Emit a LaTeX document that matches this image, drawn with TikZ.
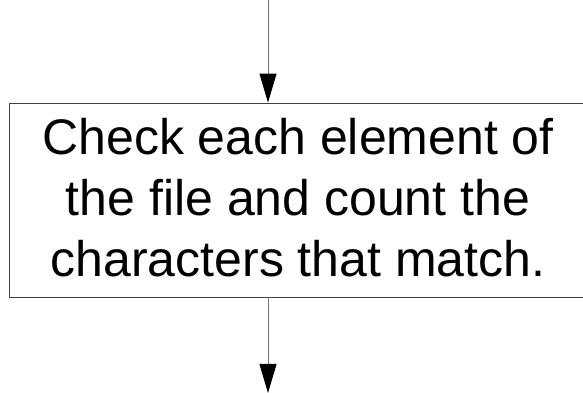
\documentclass[tikz,border=0pt]{standalone}
\usepackage{fontspec}
\setmainfont{Liberation Sans}
\usetikzlibrary{arrows.meta}

\begin{document}
\begin{tikzpicture}[
  x=1pt, y=1pt,
  stepbox/.style={draw=black!75, line width=0.8pt, minimum width=578pt,
    minimum height=194pt, align=center, inner sep=0pt, text depth=6pt,
    font=\fontsize{50}{61}\selectfont},
  flow/.style={draw=black!55, line width=1pt,
    -{Triangle[length=29pt,width=17pt,color=black]}},
]

\useasboundingbox (0,0) rectangle (583,393);

\node [stepbox] (check) at (298,193) {Check each element of\\the file and count the\\characters that match.};

\coordinate (in) at (268,393);
\coordinate (out) at (268,0);

\draw [flow] (in) -- (in |- check.north);
\draw [flow] (out |- check.south) -- (out);

\end{tikzpicture}
\end{document}
